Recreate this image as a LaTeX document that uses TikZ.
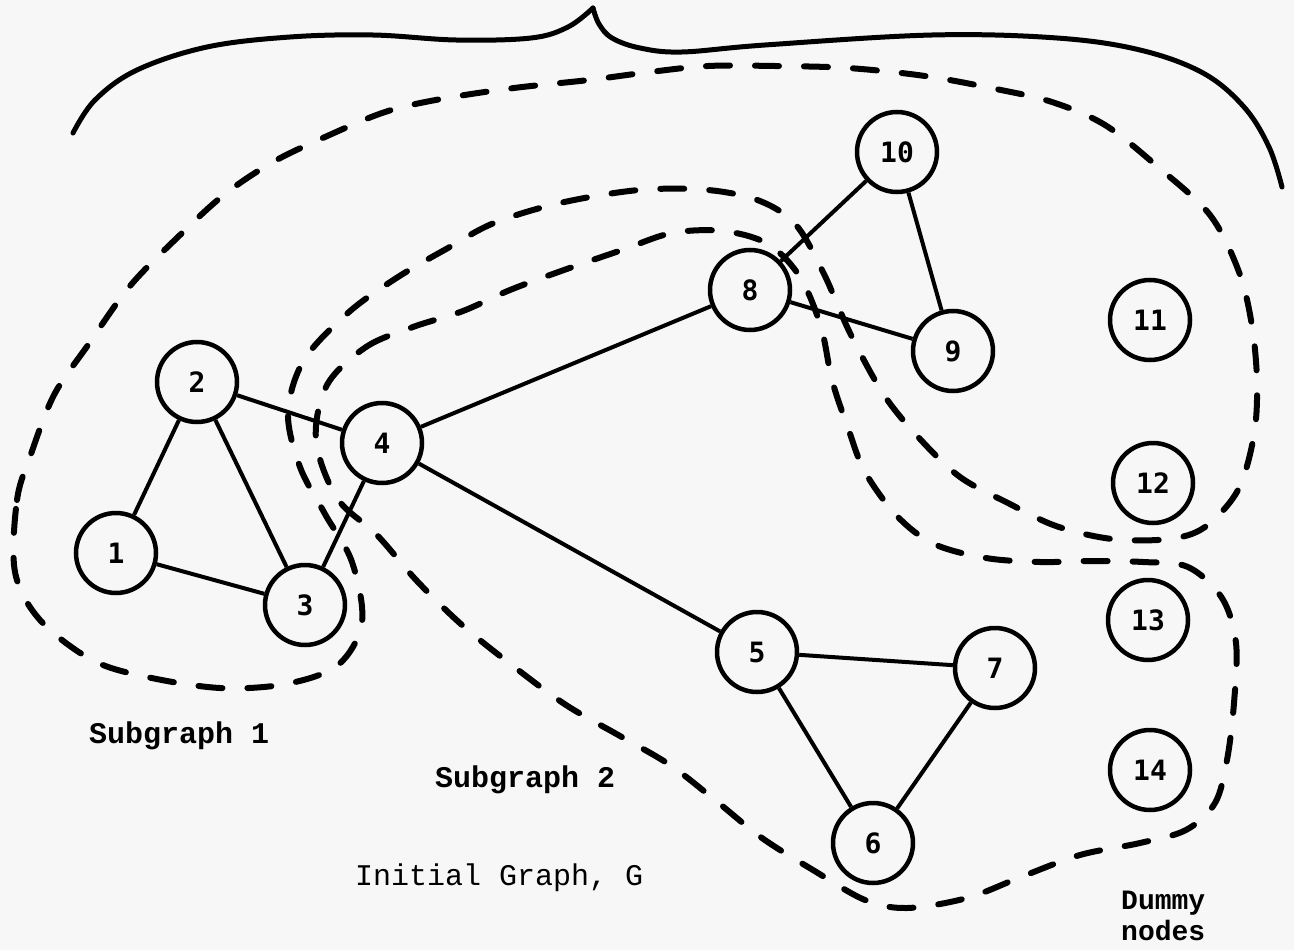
\documentclass[tikz,border=0pt]{standalone}
\usepackage{fontspec}
\newfontfamily\labelfont{Liberation Mono}
\newfontfamily\numfont{DejaVu Sans Mono}
\definecolor{paper}{RGB}{247,247,247}
\begin{document}
\begin{tikzpicture}[x=1pt,y=-1pt,
  vertex/.style={circle,draw,line width=4.5pt,minimum size=80pt,inner sep=0pt,
    font=\numfont\bfseries\fontsize{28}{28}\selectfont},
  edge/.style={line width=4pt},
  boundary/.style={line width=6pt,dash pattern=on 24pt off 25pt,line cap=round},
  brace/.style={line width=5pt,line cap=round},
  caption/.style={anchor=base west,inner sep=0pt,
    font=\labelfont\fontsize{30}{30}\selectfont},
  boldcaption/.style={caption,font=\labelfont\bfseries\fontsize{30}{30}\selectfont},
]
\fill[paper] (0,0) rectangle (1294,950);
\useasboundingbox (0,0) rectangle (1294,950);

% vertices
\node[vertex] (n1)  at (116,553) {1};
\node[vertex] (n2)  at (197,382) {2};
\node[vertex] (n3)  at (305,605) {3};
\node[vertex] (n4)  at (382,443) {4};
\node[vertex] (n5)  at (757,652) {5};
\node[vertex] (n6)  at (873,843) {6};
\node[vertex] (n7)  at (995,668) {7};
\node[vertex] (n8)  at (750,290) {8};
\node[vertex] (n9)  at (953,351) {9};
\node[vertex] (n10) at (897,152) {10};
\node[vertex] (n11) at (1150,320) {11};
\node[vertex] (n12) at (1153,483) {12};
\node[vertex] (n13) at (1148,620) {13};
\node[vertex] (n14) at (1150,770) {14};

% edges
\draw[edge] (n1) -- (n2);
\draw[edge] (n1) -- (n3);
\draw[edge] (n2) -- (n3);
\draw[edge] (n2) -- (n4);
\draw[edge] (n3) -- (n4);
\draw[edge] (n4) -- (n8);
\draw[edge] (n4) -- (n5);
\draw[edge] (n8) -- (n10);
\draw[edge] (n8) -- (n9);
\draw[edge] (n10) -- (n9);
\draw[edge] (n5) -- (n7);
\draw[edge] (n5) -- (n6);
\draw[edge] (n6) -- (n7);

% boundary of subgraph 1
\draw[boundary] plot[smooth cycle,tension=0.55] coordinates {
  (15,572) (17,500) (31,454) (54,395) (88,345) (130,286) (180,235) (225,194)
  (273,162) (325,137) (385,112) (441,99) (514,88) (589,80) (650,72) (708,66)
  (775,66) (848,68) (925,76) (996,89) (1052,102) (1105,125) (1158,167)
  (1210,215) (1239,272) (1252,326) (1257,382) (1254,435) (1238,490)
  (1205,527) (1169,539) (1112,539) (1056,526) (1008,503) (960,477) (920,439)
  (884,395) (850,333) (824,274) (796,225) (760,201) (708,190) (639,190)
  (560,203) (494,223) (448,248) (398,277) (349,312) (304,360) (288,413)
  (300,467) (325,514) (352,562) (362,622) (338,665) (286,684) (220,688)
  (147,677) (92,660) (40,620)};

% boundary of subgraph 2
\draw[boundary] plot[smooth cycle,tension=0.55] coordinates {
  (327,385) (366,347) (413,327) (463,311) (510,290) (564,270) (622,250)
  (672,233) (723,231) (768,244) (800,277) (821,327) (832,380) (848,428)
  (865,472) (897,516) (934,544) (986,558) (1040,562) (1090,561) (1143,562)
  (1188,567) (1222,598) (1236,643) (1234,703) (1227,760) (1215,803)
  (1186,830) (1140,843) (1080,855) (1021,877) (967,898) (907,908) (865,900)
  (813,870) (762,838) (715,800) (670,765) (620,736) (566,705) (513,666)
  (462,625) (417,581) (377,535) (337,498) (316,440)};

% brace over the whole graph
\draw[brace] plot[smooth,tension=0.6] coordinates {
  (73,133) (95,100) (137,70) (207,47) (290,37) (373,35) (456,40) (531,38)
  (568,27) (593,8)};
\draw[brace] plot[smooth,tension=0.6] coordinates {
  (593,8) (599,24) (612,38) (640,48) (682,52) (765,45) (932,35) (1057,38)
  (1140,50) (1203,73) (1244,107) (1269,147) (1282,187)};

% captions
\node[boldcaption] (s1) at (89,743) {Subgraph 1};
\node[boldcaption] (s2) at (435,787) {Subgraph 2};
\node[caption] (g) at (355,885) {Initial Graph, G};
\node[boldcaption,font=\labelfont\bfseries\fontsize{28}{28}\selectfont] (d1) at (1121,909) {Dummy};
\node[boldcaption,font=\labelfont\bfseries\fontsize{28}{28}\selectfont] (d2) at (1121,940) {nodes};
\end{tikzpicture}
\end{document}
